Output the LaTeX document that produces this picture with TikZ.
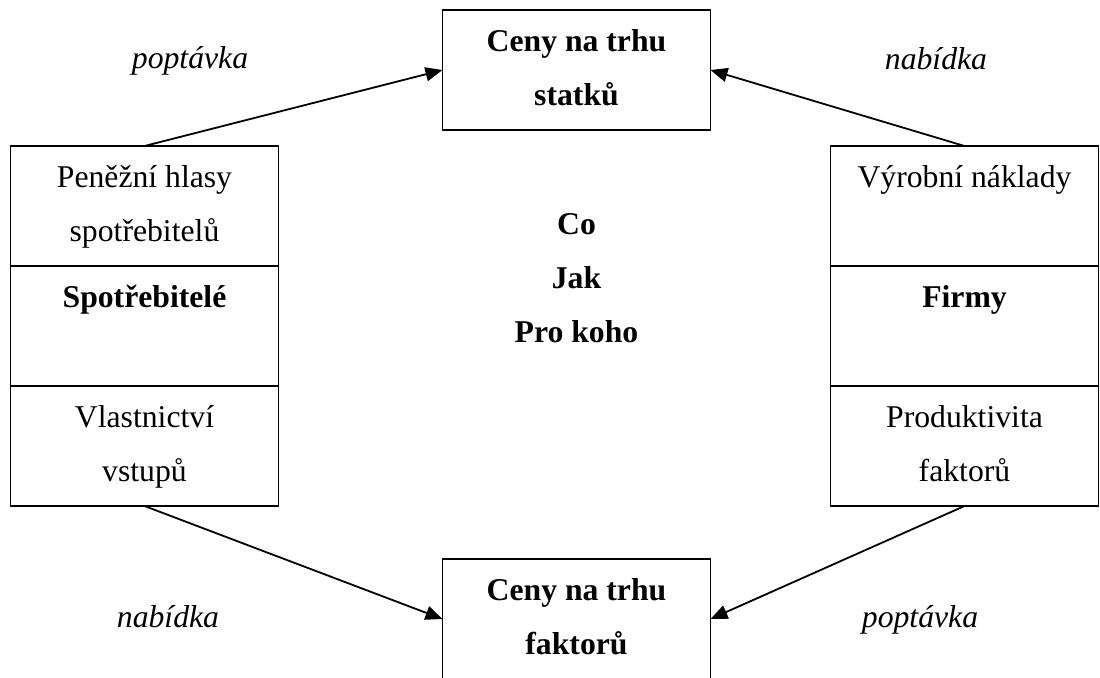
\documentclass[tikz,border=0pt]{standalone}
\usepackage{fontspec}
\setmainfont{Liberation Serif}
\usepackage{tikz}
\usetikzlibrary{arrows.meta,positioning}
\newcommand\diafont{\fontsize{15.85pt}{27.2pt}\selectfont}
\tikzset{
  box/.style={draw, line width=0.9pt, inner sep=0pt, outer sep=0pt, text width=134pt,
    align=flush center, text height=20.5pt, text depth=39.5pt, anchor=north, font=\diafont},
  boxb/.style={box, font=\diafont\bfseries},
  arr/.style={draw, line width=0.9pt, -{Triangle[length=8.5pt,width=7pt]}},
  lab/.style={anchor=base, font=\diafont\itshape}
}

\begin{document}
\begin{tikzpicture}[x=0.5pt, y=-0.5pt]
  \useasboundingbox (0,0) rectangle (1100,677);
  \clip (0,0) rectangle (1100,677);

  \node[boxb] (statky) at (576.5,10) {Ceny na trhu\\statků};
  \node[boxb] (faktory) at (576.5,559) {Ceny na trhu\\faktorů};

  \node[box] (hlasy) at (144.5,146) {Peněžní hlasy\\spotřebitelů};
  \node[boxb, below=0pt of hlasy] (spotr) {Spotřebitelé};
  \node[box, below=0pt of spotr] (vlast) {Vlastnictví\\vstupů};

  \node[box] (naklady) at (964.5,146) {Výrobní náklady};
  \node[boxb, below=0pt of naklady] (firmy) {Firmy};
  \node[box, below=0pt of firmy] (produkt) {Produktivita\\faktorů};

  \node[anchor=base, text width=200pt, align=flush center, font=\diafont\bfseries] (otazky)
    at (576.5,234) {Co\\Jak\\Pro koho};

  \draw[arr] (hlasy.north) -- (statky.west);
  \draw[arr] (naklady.north) -- (statky.east);
  \draw[arr] (vlast.south) -- (faktory.west);
  \draw[arr] (produkt.south) -- (faktory.east);

  \node[lab] (poptS) at (190,68) {poptávka};
  \node[lab] (nabS) at (936,69) {nabídka};
  \node[lab] (nabF) at (168,627) {nabídka};
  \node[lab] (poptF) at (920,627) {poptávka};
\end{tikzpicture}
\end{document}
